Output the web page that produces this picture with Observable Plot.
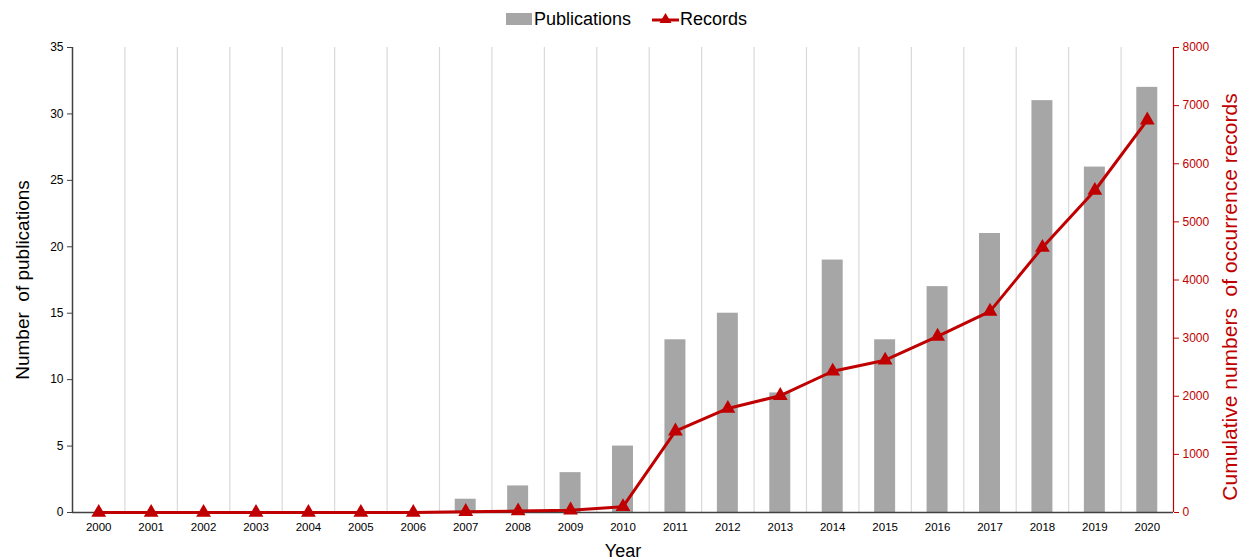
<!DOCTYPE html>
<html><head><meta charset="utf-8">
<script src="https://cdn.jsdelivr.net/npm/d3@7"></script>
<script src="https://cdn.jsdelivr.net/npm/@observablehq/plot@0.6"></script>
<style>
body{margin:0;background:#fff;font-family:"Liberation Sans",Arial,sans-serif;}
#legend{position:relative;width:1243px;height:38px;font-size:18px;color:#000;}
#legend .item{position:absolute;top:8px;display:flex;align-items:center;height:22px;}
#chart svg{display:block;}
</style></head>
<body>
<div id="legend">
  <div class="item" style="left:506px"><svg width="26" height="12"><rect width="26" height="12" fill="#a6a6a6"/></svg><span style="margin-left:2px">Publications</span></div>
  <div class="item" style="left:652px"><svg width="27" height="14"><line x1="0" y1="8" x2="27" y2="8" stroke="#c00000" stroke-width="3"/><path d="M13.5,1 L19.5,11 L7.5,11 Z" fill="#c00000"/></svg><span style="margin-left:1px">Records</span></div>
</div>
<div id="chart"></div>
<script>
const years = [2000,2001,2002,2003,2004,2005,2006,2007,2008,2009,2010,2011,2012,2013,2014,2015,2016,2017,2018,2019,2020];
const publications = [0,0,0,0,0,0,0,1,2,3,5,13,15,9,19,13,17,21,31,26,32];
const records = [0,0,0,0,0,0,0,15,25,40,100,1400,1790,2010,2430,2620,3030,3460,4560,5540,6750];
const pubTicks = [0,5,10,15,20,25,30,35];
const recTicks = [0,1000,2000,3000,4000,5000,6000,7000,8000];

const pubMax = 35, recMax = 8000;
const k = pubMax / recMax;
const data = years.map((year, i) => ({year, pubs: publications[i], rec: records[i]}));
const gridYears = years.slice(0, -1);
const red = "#c00000";

const plot = Plot.plot({
  width: 1243,
  height: 522,
  marginTop: 9,
  marginBottom: 48,
  marginLeft: 72,
  marginRight: 70,
  style: {fontFamily: "Liberation Sans, Arial, sans-serif", fontSize: "12px", background: "#fff"},
  x: {domain: [years[0] - 0.5, years[years.length - 1] + 0.5], axis: null},
  y: {domain: [0, pubMax], axis: null},
  marks: [
    Plot.ruleX(gridYears, {x: d => d + 0.5, stroke: "#d9d9d9", strokeWidth: 1.2}),
    Plot.rectY(data, {x1: d => d.year - 0.2, x2: d => d.year + 0.2, y: "pubs", fill: "#a6a6a6"}),
    Plot.ruleY([0], {stroke: "#404040", strokeWidth: 1.5}),
    Plot.ruleX([years[0] - 0.5], {y1: 0, y2: pubMax, stroke: "#404040", strokeWidth: 1.5}),
    Plot.ruleX([years[years.length - 1] + 0.5], {y1: 0, y2: pubMax, stroke: red, strokeWidth: 1.2}),
    Plot.line(data, {x: "year", y: d => d.rec * k, stroke: red, strokeWidth: 3}),
    Plot.dot(data, {x: "year", y: d => d.rec * k, symbol: "triangle", fill: red, r: 5.5}),
    Plot.axisX(years, {tickSize: 0, tickPadding: 10, tickFormat: d => String(d), fontSize: 11.5, label: null}),
    Plot.text(["Year"], {frameAnchor: "bottom", dy: 44, fontSize: 18, fill: "#000"}),
    Plot.axisY(pubTicks, {anchor: "left", tickSize: 5, tickPadding: 4, stroke: "#404040", fontSize: 12, label: null}),
    Plot.text(["Number  of publications"], {frameAnchor: "left", textAnchor: "middle", dx: -50, rotate: -90, fontSize: 19, fill: "#000"}),
    Plot.axisY(recTicks.map(v => v * k), {anchor: "right", tickSize: 5, tickPadding: 4, stroke: red, fill: red, fontSize: 12, tickFormat: d => String(Math.round(d / k)), label: null}),
    Plot.text(["Cumulative numbers  of occurrence records"], {frameAnchor: "right", textAnchor: "middle", dx: 57, dy: 17, rotate: -90, fontSize: 21, fill: red})
  ]
});
document.getElementById("chart").appendChild(plot);
</script>
</body></html>
